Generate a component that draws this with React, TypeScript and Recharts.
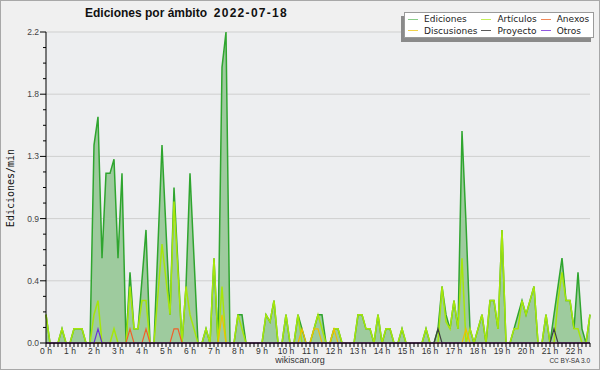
import {
  ComposedChart,
  Area,
  Line,
  XAxis,
  YAxis,
  CartesianGrid,
} from 'recharts';

// 10-minute bins, 6 per hour, 00:00 .. 22:40
const EDICIONES = [
  0.2, 0, 0, 0, 0.1, 0,
  0, 0.1, 0.1, 0.1, 0, 0,
  1.4, 1.6, 0.6, 1.2, 1.2, 1.3,
  0.6, 1.2, 0, 0.5, 0.1, 0.1,
  0.45, 0.8, 0, 0, 0.7, 1.4,
  0.8, 0.2, 1.1, 0.55, 0, 0.4,
  1.2, 0.6, 0, 0, 0.1, 0,
  0.6, 0, 1.95, 2.2, 0, 0,
  0.2, 0.2, 0, 0, 0, 0,
  0, 0.2, 0.15, 0.3, 0, 0,
  0.2, 0, 0, 0.2, 0.1, 0,
  0, 0.1, 0.2, 0.2, 0, 0,
  0.1, 0.1, 0, 0, 0, 0,
  0.2, 0.2, 0.1, 0.1, 0, 0.2,
  0, 0.1, 0.1, 0, 0, 0.1,
  0, 0, 0, 0, 0, 0.1,
  0, 0, 0.1, 0.4, 0.2, 0.1,
  0.3, 0.1, 1.5, 0.85, 0.1, 0,
  0.1, 0.2, 0, 0.3, 0.3, 0.1,
  0.8, 0, 0, 0.1, 0.2, 0.3,
  0.2, 0.3, 0.4, 0, 0, 0.2,
  0, 0.2, 0.4, 0.6, 0.3, 0.3,
  0.1, 0.5, 0.1, 0, 0.2,
];

const ARTICULOS = [
  0.2, 0, 0, 0, 0.1, 0,
  0, 0.1, 0.1, 0.1, 0, 0,
  0.2, 0.3, 0, 0, 0, 0.1,
  0, 0, 0, 0.4, 0.1, 0.1,
  0.3, 0.3, 0, 0, 0.35, 0.7,
  0.45, 0.2, 1.0, 0.5, 0, 0.4,
  0.2, 0.1, 0, 0, 0.1, 0,
  0.6, 0, 0.4, 0, 0, 0,
  0.2, 0.1, 0, 0, 0, 0,
  0, 0.2, 0.15, 0.3, 0, 0,
  0.2, 0, 0, 0.2, 0, 0,
  0, 0.1, 0.2, 0.1, 0, 0,
  0.1, 0.1, 0, 0, 0, 0,
  0.2, 0.2, 0.1, 0.1, 0, 0.2,
  0, 0.1, 0.1, 0, 0, 0.1,
  0, 0, 0, 0, 0, 0.1,
  0, 0, 0, 0.4, 0.15, 0.1,
  0.3, 0.1, 0.6, 0, 0.1, 0,
  0.1, 0.2, 0, 0.3, 0.3, 0.1,
  0.8, 0, 0, 0.1, 0.1, 0.3,
  0.2, 0.3, 0.4, 0, 0, 0.2,
  0, 0, 0.3, 0.5, 0.3, 0.3,
  0.1, 0.1, 0, 0, 0.2,
];

const DISCUSIONES = [
  0, 0, 0, 0, 0, 0,
  0, 0, 0, 0, 0, 0,
  0, 0, 0, 0, 0, 0,
  0, 0, 0, 0, 0, 0,
  0, 0, 0, 0, 0, 0,
  0, 0, 0, 0, 0, 0,
  0, 0, 0, 0, 0, 0,
  0, 0, 0.2, 0, 0, 0,
  0, 0, 0, 0, 0, 0,
  0, 0, 0, 0, 0, 0,
  0, 0, 0, 0, 0.1, 0,
  0, 0.1, 0.1, 0, 0, 0,
  0.1, 0, 0, 0, 0, 0,
  0, 0, 0, 0, 0, 0,
  0, 0, 0, 0, 0, 0,
  0, 0, 0, 0, 0, 0,
  0, 0, 0, 0, 0, 0,
  0, 0, 0, 0.1, 0, 0,
  0, 0, 0, 0, 0, 0,
  0, 0, 0, 0, 0, 0,
  0, 0, 0, 0, 0, 0,
  0, 0, 0, 0, 0, 0,
  0, 0, 0, 0, 0,
];

const ANEXOS = [
  0, 0, 0, 0, 0, 0,
  0, 0, 0, 0, 0, 0,
  0, 0, 0, 0, 0, 0,
  0, 0, 0, 0.1, 0, 0,
  0, 0.1, 0, 0, 0, 0,
  0, 0, 0.1, 0.1, 0, 0,
  0, 0, 0, 0, 0, 0,
  0, 0, 0, 0, 0, 0,
  0, 0, 0, 0, 0, 0,
  0, 0, 0, 0, 0, 0,
  0, 0, 0, 0, 0, 0,
  0, 0, 0, 0, 0, 0,
  0, 0, 0, 0, 0, 0,
  0, 0, 0, 0, 0, 0,
  0, 0, 0, 0, 0, 0,
  0, 0, 0, 0, 0, 0,
  0, 0, 0, 0, 0, 0,
  0, 0, 0, 0, 0, 0,
  0, 0, 0, 0, 0, 0,
  0, 0, 0, 0, 0, 0,
  0, 0, 0, 0, 0, 0,
  0, 0, 0, 0, 0, 0,
  0, 0, 0, 0, 0,
];

const PROYECTO = [
  0, 0, 0, 0, 0, 0,
  0, 0, 0, 0, 0, 0,
  0, 0, 0, 0, 0, 0,
  0, 0, 0, 0, 0, 0,
  0, 0, 0, 0, 0, 0,
  0, 0, 0, 0, 0, 0,
  0, 0, 0, 0, 0, 0,
  0, 0, 0, 0, 0, 0,
  0, 0, 0, 0, 0, 0,
  0, 0, 0, 0, 0, 0,
  0, 0, 0, 0, 0, 0,
  0, 0, 0, 0, 0, 0,
  0, 0, 0, 0, 0, 0,
  0, 0, 0, 0, 0, 0,
  0, 0, 0, 0, 0, 0,
  0, 0, 0, 0, 0, 0,
  0, 0, 0.1, 0, 0, 0,
  0, 0, 0, 0, 0, 0,
  0, 0, 0, 0, 0, 0,
  0, 0, 0, 0, 0, 0,
  0, 0, 0, 0, 0, 0,
  0, 0.1, 0, 0, 0, 0,
  0, 0, 0, 0, 0,
];

const OTROS = [
  0, 0, 0, 0, 0, 0,
  0, 0, 0, 0, 0, 0,
  0, 0.1, 0, 0, 0, 0,
  0, 0, 0, 0, 0, 0,
  0, 0, 0, 0, 0, 0,
  0, 0, 0, 0, 0, 0,
  0, 0, 0, 0, 0, 0,
  0, 0, 0, 0, 0, 0,
  0, 0, 0, 0, 0, 0,
  0, 0, 0, 0, 0, 0,
  0, 0, 0, 0, 0, 0,
  0, 0, 0, 0, 0, 0,
  0, 0, 0, 0, 0, 0,
  0, 0, 0, 0, 0, 0,
  0, 0, 0, 0, 0, 0,
  0, 0, 0, 0, 0, 0,
  0, 0, 0, 0, 0, 0,
  0, 0, 0, 0, 0, 0,
  0, 0, 0, 0, 0, 0,
  0, 0, 0, 0, 0, 0,
  0, 0, 0, 0, 0, 0,
  0, 0, 0, 0, 0, 0,
  0, 0, 0, 0, 0,
];

const HOUR_LABELS = [
  '0 h', '1 h', '2 h', '3 h', '4 h', '5 h', '6 h', '7 h', '8 h', '9 h', '10 h', '11 h',
  '12 h', '13 h', '14 h', '15 h', '16 h', '17 h', '18 h', '19 h', '20 h', '21 h', '22 h',
];

const Y_MAJOR = [0, 0.44, 0.88, 1.32, 1.76, 2.2];
const Y_MINOR = [
  0, 0.11, 0.22, 0.33, 0.44, 0.55, 0.66, 0.77, 0.88, 0.99, 1.1,
  1.21, 1.32, 1.43, 1.54, 1.65, 1.76, 1.87, 1.98, 2.09, 2.2,
];
const Y_MAX = 2.2;

const COLORS = {
  ediciones: '#2fa52f',
  edicionesFill: '#9ecb9e',
  articulos: '#a6e60a',
  discusiones: '#f0c000',
  anexos: '#f0602a',
  proyecto: '#404040',
  otros: '#6a30d8',
};

const LEGEND = [
  [
    { name: 'Ediciones', color: '#88cc88' },
    { name: 'Discusiones', color: '#f2d24a' },
  ],
  [
    { name: 'Artículos', color: '#c4ee5a' },
    { name: 'Proyecto', color: '#5a5a5a' },
  ],
  [
    { name: 'Anexos', color: '#f08858' },
    { name: 'Otros', color: '#9058e0' },
  ],
];

const rows = EDICIONES.map((v, i) => ({
  i,
  ediciones: v,
  articulos: ARTICULOS[i],
  discusiones: DISCUSIONES[i],
  anexos: ANEXOS[i],
  proyecto: PROYECTO[i],
  otros: OTROS[i],
}));

const binTicks = rows.map((r) => r.i);

const SANS = '"Liberation Sans", Arial, sans-serif';

function XTick({ x, y, payload }: any) {
  if (payload.value % 6 !== 0) return <g />;
  return (
    <text
      x={x}
      y={y + 7}
      textAnchor="middle"
      fontSize={8.5}
      fontFamily={SANS}
      fill="#333"
    >
      {HOUR_LABELS[payload.value / 6]}
    </text>
  );
}

function YTick({ x, y, payload, index }: any) {
  const major = index % 4 === 0;
  return (
    <g>
      <line x1={x - (major ? 6 : 3)} x2={x} y1={y} y2={y} stroke="#000" />
      {major && (
        <text
          x={x - 7}
          y={y + 3}
          textAnchor="end"
          fontSize={8.5}
          fontFamily={SANS}
          fill="#444"
        >
          {payload.value.toFixed(1)}
        </text>
      )}
    </g>
  );
}

// grid lines only at the labelled values (behind the series)
const majorGridLines = ({ yAxis, offset }: any) =>
  Y_MAJOR.filter((v) => v > 0).map((v) => {
    const s = yAxis && yAxis.scale;
    if (typeof s === 'function') return s(v);
    if (s && typeof s.map === 'function') return s.map(v);
    return offset.top + offset.height * (1 - v / Y_MAX);
  });

export default function App() {
  return (
    <div
      style={{
        position: 'absolute',
        left: 0,
        top: 0,
        width: 600,
        height: 370,
        background: '#f0f0f0',
      }}
    >
      <ComposedChart
        width={600}
        height={370}
        data={rows}
        margin={{ top: 32, right: 10, bottom: 0, left: 0 }}
      >
        <CartesianGrid
          yAxisId="v"
          vertical={false}
          stroke="#cfcfcf"
          fill="#edeef0"
          horizontalCoordinatesGenerator={majorGridLines}
        />
        <Area
          yAxisId="v"
          type="linear"
          dataKey="ediciones"
          stroke={COLORS.ediciones}
          strokeWidth={1.5}
          fill={COLORS.edicionesFill}
          fillOpacity={1}
          dot={false}
          activeDot={false}
          isAnimationActive={false}
        />
        <Line yAxisId="v" type="linear" dataKey="articulos" stroke={COLORS.articulos} strokeWidth={1.5} dot={false} activeDot={false} isAnimationActive={false} />
        <Line yAxisId="v" type="linear" dataKey="discusiones" stroke={COLORS.discusiones} strokeWidth={1.2} dot={false} activeDot={false} isAnimationActive={false} />
        <Line yAxisId="v" type="linear" dataKey="anexos" stroke={COLORS.anexos} strokeWidth={1.2} dot={false} activeDot={false} isAnimationActive={false} />
        <Line yAxisId="v" type="linear" dataKey="proyecto" stroke={COLORS.proyecto} strokeWidth={1.2} dot={false} activeDot={false} isAnimationActive={false} />
        <Line yAxisId="v" type="linear" dataKey="otros" stroke={COLORS.otros} strokeWidth={1.2} dot={false} activeDot={false} isAnimationActive={false} />
        <XAxis
          dataKey="i"
          type="number"
          domain={[0, 136]}
          ticks={binTicks}
          interval={0}
          height={27}
          tickSize={4}
          tickMargin={0}
          axisLine={{ stroke: '#000' }}
          tickLine={{ stroke: '#000' }}
          tick={<XTick />}
        />
        <YAxis
          yAxisId="v"
          domain={[0, Y_MAX]}
          ticks={Y_MINOR}
          interval={0}
          width={46}
          tickSize={0}
          tickMargin={0}
          axisLine={{ stroke: '#000' }}
          tickLine={false}
          tick={<YTick />}
        />
      </ComposedChart>

      {/* title */}
      <div
        style={{
          position: 'absolute',
          left: 85,
          top: 6,
          fontFamily: SANS,
          fontWeight: 'bold',
          fontSize: 12,
          color: '#111',
          whiteSpace: 'pre',
        }}
      >
        Ediciones por ámbito{'  '}
        <span style={{ letterSpacing: 1.3 }}>2022-07-18</span>
      </div>

      {/* y label */}
      <div
        style={{
          position: 'absolute',
          left: 10,
          top: 188,
          transform: 'translate(-50%, -50%) rotate(-90deg)',
          fontFamily: '"DejaVu Sans Mono", monospace',
          fontSize: 10,
          color: '#111',
          whiteSpace: 'nowrap',
        }}
      >
        Ediciones/min
      </div>

      {/* legend */}
      <div
        style={{
          position: 'absolute',
          left: 401,
          top: 16,
          width: 190,
          height: 26,
          background: '#8a8a8a',
        }}
      />
      <div
        style={{
          position: 'absolute',
          left: 404,
          top: 12,
          width: 188,
          height: 24,
          background: '#fff',
          border: '1px solid #9a9a9a',
          boxSizing: 'content-box',
          display: 'flex',
          fontFamily: '"DejaVu Sans", sans-serif',
          fontSize: 9,
          color: '#222',
        }}
      >
        {LEGEND.map((col, ci) => (
          <div key={ci} style={{ marginLeft: ci === 0 ? 3 : 4 }}>
            {col.map((item) => (
              <div
                key={item.name}
                style={{ display: 'flex', alignItems: 'center', height: 10.5, marginTop: 1 }}
              >
                <span
                  style={{
                    display: 'inline-block',
                    width: 10,
                    height: 1,
                    background: item.color,
                    marginRight: 6,
                  }}
                />
                {item.name}
              </div>
            ))}
          </div>
        ))}
      </div>

      {/* footer */}
      <div
        style={{
          position: 'absolute',
          left: 0,
          width: 600,
          top: 355,
          textAlign: 'center',
          fontFamily: SANS,
          fontSize: 9,
          color: '#333',
        }}
      >
        wikiscan.org
      </div>
      <div
        style={{
          position: 'absolute',
          right: 10,
          top: 357,
          fontFamily: SANS,
          fontSize: 6.5,
          color: '#333',
        }}
      >
        CC BY-SA 3.0
      </div>

      <div
        style={{
          position: 'absolute',
          left: 0,
          top: 0,
          width: 600,
          height: 370,
          border: '1px solid #a8a8a8',
          boxSizing: 'border-box',
          pointerEvents: 'none',
        }}
      />
    </div>
  );
}
